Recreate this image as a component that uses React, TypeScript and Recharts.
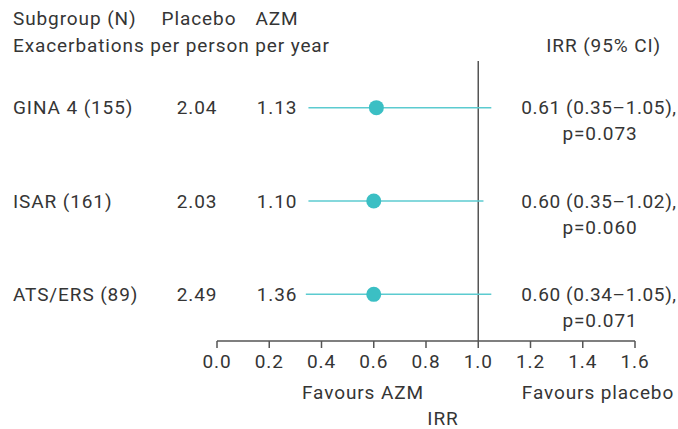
import React from 'react';
import { ScatterChart, Scatter, XAxis, YAxis, ReferenceLine } from 'recharts';

const subgroups = ['GINA 4 (155)', 'ISAR (161)', 'ATS/ERS (89)'];
const placeboRates = ['2.04', '2.03', '2.49'];
const azmRates = ['1.13', '1.10', '1.36'];
const irrValues = [0.61, 0.6, 0.6];
const ciLow = [0.35, 0.35, 0.34];
const ciHigh = [1.05, 1.02, 1.05];
const pValues = ['0.073', '0.060', '0.071'];
const xTicks = [0, 0.2, 0.4, 0.6, 0.8, 1.0, 1.2, 1.4, 1.6];

const rows = subgroups.map((name, i) => ({
  row: i + 1,
  name,
  placebo: placeboRates[i],
  azm: azmRates[i],
  irr: irrValues[i],
  lo: ciLow[i],
  hi: ciHigh[i],
  p: pValues[i],
}));

const FONT = 'Roboto, "DejaVu Sans", sans-serif';
const TEXT = '#353535';
const FS = 19;
const LS = 0.9;
const fmt = (v: number) => v.toFixed(2);

const RowTick = (props: any) => {
  const { y, payload } = props;
  const r = rows[payload.value - 1];
  if (!r) return null;
  return (
    <g fontFamily={FONT} fontSize={FS} fill={TEXT} letterSpacing={LS}>
      <text x={13} y={y} dominantBaseline="central" textAnchor="start">{r.name}</text>
      <text x={197} y={y} dominantBaseline="central" textAnchor="middle">{r.placebo}</text>
      <text x={277} y={y} dominantBaseline="central" textAnchor="middle">{r.azm}</text>
      <text x={599} y={y} dominantBaseline="central" textAnchor="middle" letterSpacing={0.6}>
        {`${fmt(r.irr)} (${fmt(r.lo)}\u2013${fmt(r.hi)}),`}
      </text>
      <text x={600} y={y + 26} dominantBaseline="central" textAnchor="middle">{`p=${r.p}`}</text>
    </g>
  );
};

export default function App() {
  return (
    <div style={{ position: 'absolute', left: 0, top: 0, width: 678, height: 429, background: '#fff' }}>
      <ScatterChart width={678} height={429} margin={{ top: 61, right: 43, bottom: 0, left: 0 }}>
        <XAxis
          type="number"
          dataKey="irr"
          domain={[0, 1.6]}
          ticks={xTicks}
          tickFormatter={(v: number) => v.toFixed(1)}
          height={88}
          tickSize={7}
          tickMargin={7}
          stroke="#555"
          strokeWidth={1.5}
          tick={{ fill: TEXT, fontSize: FS, fontFamily: FONT, letterSpacing: LS }}
          allowDataOverflow
        />
        <YAxis
          type="number"
          dataKey="row"
          domain={[0.5, 3.5]}
          reversed
          ticks={[1, 2, 3]}
          width={217}
          axisLine={false}
          tickLine={false}
          tick={<RowTick />}
        />
        <ReferenceLine x={1} stroke="#555" strokeWidth={1.5} />
        {rows.map((r) => (
          <ReferenceLine
            key={r.name}
            segment={[{ x: r.lo, y: r.row }, { x: r.hi, y: r.row }]}
            stroke="#5ccbd0"
            strokeWidth={1.5}
          />
        ))}
        <Scatter
          data={rows}
          fill="#3bbfc4"
          isAnimationActive={false}
          shape={(p: any) => <circle cx={p.cx} cy={p.cy} r={7.5} fill="#3bbfc4" />}
        />
      </ScatterChart>
      <svg
        width={678}
        height={429}
        style={{ position: 'absolute', left: 0, top: 0, pointerEvents: 'none' }}
        fontFamily={FONT}
        fontSize={FS}
        fill={TEXT}
        letterSpacing={LS}
      >
        <text x={13} y={18} dominantBaseline="central">Subgroup (N)</text>
        <text x={199} y={18} dominantBaseline="central" textAnchor="middle">Placebo</text>
        <text x={277} y={18} dominantBaseline="central" textAnchor="middle">AZM</text>
        <text x={13} y={45} dominantBaseline="central">Exacerbations per person per year</text>
        <text x={661} y={45} dominantBaseline="central" textAnchor="end">IRR (95% CI)</text>
        <text x={363} y={392} dominantBaseline="central" textAnchor="middle">Favours AZM</text>
        <text x={598} y={392} dominantBaseline="central" textAnchor="middle">Favours placebo</text>
        <text x={443} y={418} dominantBaseline="central" textAnchor="middle">IRR</text>
      </svg>
    </div>
  );
}
